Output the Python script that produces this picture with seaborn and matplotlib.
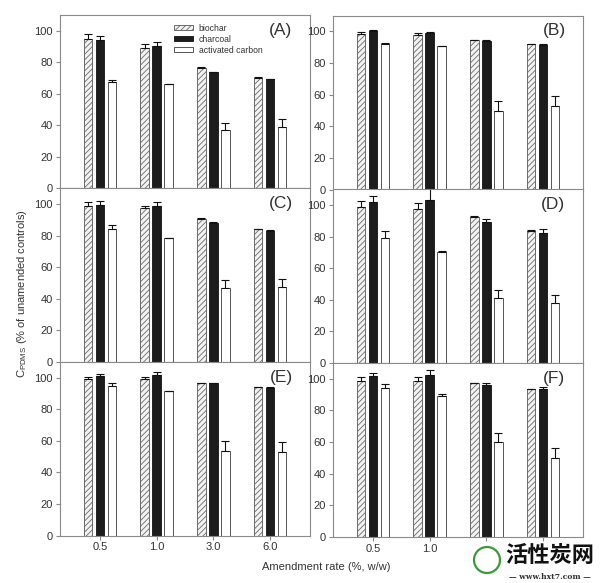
import numpy as np
import pandas as pd
import matplotlib
matplotlib.use("Agg")
import matplotlib.pyplot as plt
from matplotlib.patches import Circle
import seaborn as sns

# ---------------- data ----------------
rates = ["0.5", "1.0", "3.0", "6.0"]
series = ["biochar", "charcoal", "activated carbon"]
panel_labels = ["(A)", "(B)", "(C)", "(D)", "(E)", "(F)"]

A_biochar = [94.7, 89.3, 76.4, 70.3]
A_biochar_err = [3.4, 2.1, 0.5, 0.3]
A_charcoal = [94.1, 90.5, 73.9, 69.5]
A_charcoal_err = [2.5, 2.3, 0.2, 0.2]
A_ac = [67.8, 66.1, 37.1, 39.2]
A_ac_err = [1.3, 0.3, 4.2, 4.8]

B_biochar = [98.5, 97.7, 94.3, 92.0]
B_biochar_err = [1.1, 1.2, 0.3, 0.2]
B_charcoal = [100.2, 99.2, 94.1, 91.6]
B_charcoal_err = [0.8, 0.5, 0.2, 0.2]
B_ac = [92.2, 90.5, 49.5, 52.6]
B_ac_err = [0.5, 0.2, 6.3, 6.3]

C_biochar = [99.2, 97.9, 90.7, 84.2]
C_biochar_err = [2.3, 1.0, 0.3, 0.2]
C_charcoal = [99.8, 98.9, 88.2, 83.2]
C_charcoal_err = [2.5, 2.6, 0.6, 0.3]
C_ac = [84.2, 78.3, 46.7, 47.4]
C_ac_err = [2.5, 0.2, 5.3, 5.4]

D_biochar = [99.2, 97.9, 92.6, 83.7]
D_biochar_err = [3.5, 3.8, 0.3, 0.9]
D_charcoal = [101.9, 103.6, 89.2, 82.7]
D_charcoal_err = [3.8, 7.5, 2.1, 2.1]
D_ac = [79.5, 70.4, 41.4, 38.3]
D_ac_err = [4.2, 0.4, 4.9, 5.0]

E_biochar = [99.4, 99.4, 96.6, 94.1]
E_biochar_err = [1.4, 1.4, 0.3, 0.3]
E_charcoal = [101.1, 101.5, 96.4, 93.7]
E_charcoal_err = [1.0, 2.1, 0.3, 0.2]
E_ac = [95.1, 91.5, 53.5, 52.9]
E_ac_err = [1.5, 0.3, 6.1, 6.3]

F_biochar = [98.5, 98.5, 97.1, 93.5]
F_biochar_err = [2.8, 2.8, 0.3, 0.3]
F_charcoal = [101.5, 102.7, 96.2, 93.7]
F_charcoal_err = [2.3, 2.8, 1.1, 1.3]
F_ac = [93.9, 89.1, 60.0, 49.9]
F_ac_err = [2.7, 1.2, 5.7, 6.1]

# tick labels visible under each bottom panel (F's last two are hidden by the logo)
E_ticklabels = ["0.5", "1.0", "3.0", "6.0"]
F_ticklabels = ["0.5", "1.0", "", ""]

panels = [
    (A_biochar, A_charcoal, A_ac, A_biochar_err, A_charcoal_err, A_ac_err),
    (B_biochar, B_charcoal, B_ac, B_biochar_err, B_charcoal_err, B_ac_err),
    (C_biochar, C_charcoal, C_ac, C_biochar_err, C_charcoal_err, C_ac_err),
    (D_biochar, D_charcoal, D_ac, D_biochar_err, D_charcoal_err, D_ac_err),
    (E_biochar, E_charcoal, E_ac, E_biochar_err, E_charcoal_err, E_ac_err),
    (F_biochar, F_charcoal, F_ac, F_biochar_err, F_charcoal_err, F_ac_err),
]

# ---------------- style ----------------
sns.set_style("ticks")
plt.rcParams["font.family"] = ["Liberation Sans", "DejaVu Sans"]
plt.rcParams["mathtext.fontset"] = "custom"
plt.rcParams["mathtext.rm"] = "Liberation Sans"
plt.rcParams["mathtext.it"] = "Liberation Sans"
plt.rcParams["hatch.linewidth"] = 0.6

spine_c = "#8a8a8a"
text_c = "#333333"

W, H = 600, 583
fig = plt.figure(figsize=(W / 100, H / 100), dpi=100)

# pixel geometry per column
col_x = [(60, 310), (333, 583)]
col_rows = [
    [15, 188.5, 362, 535.5],
    [15.5, 189.5, 363, 537],
]

palette = {"biochar": "white", "charcoal": "#1c1c1c", "activated carbon": "white"}

axes = []
for i, (vals_b, vals_c, vals_a, err_b, err_c, err_a) in enumerate(panels):
    r, c = divmod(i, 2)
    x0, x1 = col_x[c]
    y_top = col_rows[c][r]
    y_bot = col_rows[c][r + 1]
    ax = fig.add_axes([x0 / W, 1 - y_bot / H, (x1 - x0) / W, (y_bot - y_top) / H])
    axes.append(ax)

    df = pd.DataFrame({
        "rate": rates * 3,
        "type": ["biochar"] * 4 + ["charcoal"] * 4 + ["activated carbon"] * 4,
        "value": list(vals_b) + list(vals_c) + list(vals_a),
    })
    errs = {"biochar": err_b, "charcoal": err_c, "activated carbon": err_a}

    sns.barplot(data=df, x="rate", y="value", hue="type", order=rates,
                hue_order=series, palette=palette, width=0.636, gap=0.29,
                errorbar=None, legend=False, ax=ax, linewidth=0.7,
                edgecolor="#222222", saturation=1)

    for cont, name in zip(ax.containers, series):
        for bar in cont:
            if name == "biochar":
                bar.set_hatch("//////")
                bar.set_edgecolor("#6a6a6a")
                bar.set_facecolor("#f2f2f2")
            elif name == "activated carbon":
                bar.set_edgecolor("#555555")
            xc = bar.get_x() + bar.get_width() / 2
            k = int(round(xc))
            h = bar.get_height()
            ax.errorbar([xc], [h], yerr=[[0], [errs[name][k]]], fmt="none",
                        ecolor="#111111", elinewidth=0.8, capsize=2.6,
                        capthick=0.8)

    ax.set_xlim(-0.706, 3.706)
    ax.set_ylim(0, 110)
    ax.set_yticks([0, 20, 40, 60, 80, 100])
    ax.set_xlabel("")
    ax.set_ylabel("")
    for s in ax.spines.values():
        s.set_visible(True)
        s.set_color(spine_c)
        s.set_linewidth(0.8)
    ax.tick_params(axis="both", direction="out", length=3, width=0.8,
                   color=spine_c, labelsize=8, labelcolor=text_c, pad=2)
    if r < 2:
        ax.tick_params(axis="x", labelbottom=False)
    elif c == 0:
        ax.set_xticks(range(len(rates)), labels=E_ticklabels)
    else:
        ax.set_xticks(range(len(rates)), labels=F_ticklabels)
    ax.text(0.93, 0.955, panel_labels[i], transform=ax.transAxes,
            ha="right", va="top", fontsize=12.5, color=text_c)

    if i == 0:
        handles = list(ax.containers)
        leg = ax.legend(handles, series, loc="upper left",
                        bbox_to_anchor=(0.43, 0.985), frameon=False,
                        fontsize=6.2, handlelength=2.3, handleheight=0.55,
                        handletextpad=0.6, labelspacing=0.25, borderpad=0.2)
        for t in leg.get_texts():
            t.set_color(text_c)

fig.text(22 / W, 1 - 294 / H, r"$\mathrm{C_{PDMS}}$ (% of unamended controls)",
         rotation=90, ha="center", va="center", fontsize=8, color=text_c)
fig.text(326 / W, 1 - 567 / H, "Amendment rate (%, w/w)", ha="center",
         va="center", fontsize=8, color=text_c)

# watermark seen in the reference image
fig.text(550 / W, 1 - 556 / H, "活性炭网", ha="center", va="center",
         fontsize=16, fontweight="bold", color="#111111",
         family=["Noto Sans CJK SC", "DejaVu Sans"])
fig.text(550 / W, 1 - 577 / H, "— www.hxt7.com —", ha="center", va="center",
         fontsize=5.5, fontweight="bold", color="#333333",
         family=["DejaVu Serif"])
circ = Circle((487, H - 560), 13, transform=None, fc="white", ec="#3a9a3a",
              lw=1.6, zorder=5)
fig.patches.append(circ)

fig.savefig("out.png", dpi=100)
